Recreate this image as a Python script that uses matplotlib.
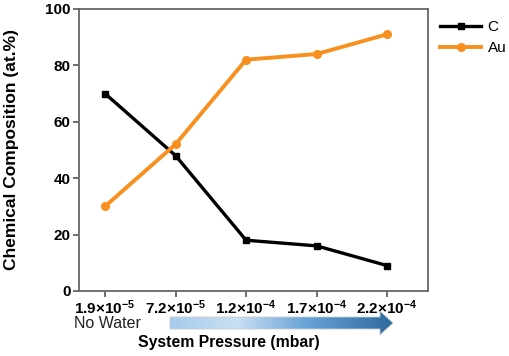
import matplotlib
matplotlib.use("Agg")
import matplotlib.pyplot as plt
import numpy as np
from matplotlib.patches import Polygon

plt.rcParams['font.family'] = ['Liberation Sans', 'DejaVu Sans']
plt.rcParams['mathtext.fontset'] = 'custom'
plt.rcParams['mathtext.rm'] = 'Liberation Sans:bold'
plt.rcParams['mathtext.bf'] = 'Liberation Sans:bold'
plt.rcParams['mathtext.it'] = 'Liberation Sans:bold'

pressures = ["1.9", "7.2", "1.2", "1.7", "2.2"]
exponents = ["-5", "-5", "-4", "-4", "-4"]
c_values = [70, 48, 18, 16, 9]
au_values = [30, 52, 82, 84, 91]
tick_labels = [r"$\mathbf{%s{\times}10^{%s}}$" % (p, e) for p, e in zip(pressures, exponents)]

fig = plt.figure(figsize=(5.09, 3.56), dpi=100)
ax = fig.add_axes([0.155, 0.1826, 0.686, 0.7924])

x = np.arange(len(pressures))
ax.plot(x, c_values, color='black', lw=2.4, marker='s', ms=4.5, label='C', zorder=3)
ax.plot(x, au_values, color='#F7901E', lw=2.8, marker='o', ms=5.5, label='Au', zorder=4)

ax.set_xlim(-0.37, 4.58)
ax.set_ylim(0, 100)
ax.set_yticks([0, 20, 40, 60, 80, 100])
ax.set_xticks(x)
ax.set_xticklabels(tick_labels, fontsize=11)
for lbl in ax.get_yticklabels():
    lbl.set_fontweight('bold')
    lbl.set_fontsize(11)
ax.tick_params(axis='both', direction='out', length=4, width=1.2, color='#555555', pad=2)
ax.tick_params(axis='x', pad=1)
for s in ax.spines.values():
    s.set_color('#666666')
    s.set_linewidth(1.3)

ax.set_ylabel("Chemical Composition (at.%)", fontsize=12.5, fontweight='bold')
ax.yaxis.set_label_coords(-0.172, 0.5)

fig.text(107 / 509, 1 - 324 / 356, "No Water", ha='center', va='center', fontsize=11.5, color='#222222')
fig.text(229 / 509, 1 - 343 / 356, "System Pressure (mbar)", ha='center', va='center',
         fontsize=11.3, fontweight='bold')

# gradient arrow
W, H = 509, 356
arr_ax = fig.add_axes([0, 0, 1, 1], zorder=0)
arr_ax.set_xlim(0, W)
arr_ax.set_ylim(H, 0)
arr_ax.axis('off')
arr_ax.patch.set_alpha(0)
poly = [(170, 317), (380, 317), (380, 311), (393, 323), (380, 335), (380, 329), (170, 329)]
cmap = matplotlib.colors.LinearSegmentedColormap.from_list(
    'blu', [(0.0, '#a6cbec'), (0.3, '#c9e0f3'), (0.6, '#6aa5d8'), (1.0, '#2d6aa0')])
grad = np.linspace(0, 1, 256).reshape(1, -1)
im = arr_ax.imshow(grad, cmap=cmap, extent=(170, 393, 335, 311), aspect='auto')
patch = Polygon(poly, closed=True, facecolor='none', edgecolor='#cccccc', lw=0.6)
arr_ax.add_patch(patch)
im.set_clip_path(patch)

leg = ax.legend(loc='upper left', bbox_to_anchor=(434 / 509, 1 - 14 / 356), bbox_transform=fig.transFigure,
                frameon=False, fontsize=11, handlelength=2.7, handletextpad=0.4, labelspacing=0.45,
                borderaxespad=0)

fig.savefig("out.png", dpi=100)
